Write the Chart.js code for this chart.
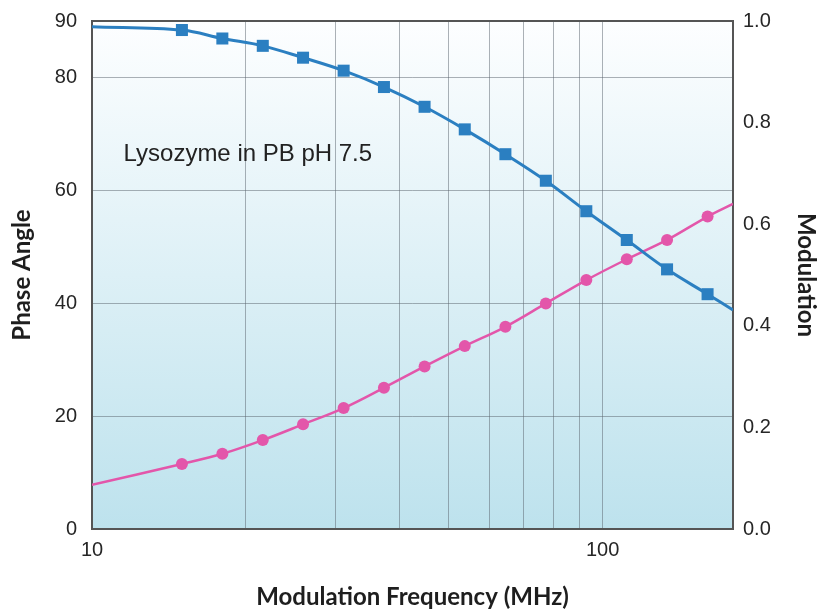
<!DOCTYPE html>
<html>
<head>
<meta charset="utf-8">
<script src="https://cdn.jsdelivr.net/npm/chart.js@4.4.1/dist/chart.umd.min.js"></script>
<style>
  html, body { margin: 0; padding: 0; background: #fff; }
  #wrap { width: 820px; height: 614px; }
</style>
</head>
<body>
<div id="wrap"><canvas id="c"></canvas></div>
<script>
const BLUE = "#2b7fc1";
const PINK = "#e356aa";
const GRID = "rgba(90,100,110,0.5)";
const FRAME = "#555";
const TEXT = "#262626";

// measured points, frequency in MHz
const FREQ = [15, 18, 21.6, 25.9, 31.1, 37.3, 44.8, 53.7, 64.5, 77.4, 92.9, 111.5, 133.7, 160.5];
const PHASE = [88.4, 86.9, 85.6, 83.5, 81.2, 78.3, 74.8, 70.8, 66.4, 61.7, 56.3, 51.2, 46.0, 41.6];
const MODULATION = [0.128, 0.148, 0.175, 0.206, 0.238, 0.278, 0.320, 0.360, 0.398, 0.444, 0.490, 0.531, 0.569, 0.615];

// the fitted curves run on to both edges of the axis
const CURVE_FREQ = [10, 180];
const PHASE_ENDS = [89.0, 38.8];
const MOD_ENDS = [0.087, 0.640];

const X_TICKS = [10, 20, 30, 40, 50, 60, 70, 80, 90, 100];
const Y_TICKS = [0, 20, 40, 60, 80, 90];
const Y2_TICKS = [0, 0.2, 0.4, 0.6, 0.8, 1.0];

function pts(xs, ys) {
  return xs.map((x, i) => ({ x, y: ys[i] }));
}

const phaseCurve = [
  { x: CURVE_FREQ[0], y: PHASE_ENDS[0] },
  ...pts(FREQ, PHASE),
  { x: CURVE_FREQ[1], y: PHASE_ENDS[1] },
];
const modCurve = [
  { x: CURVE_FREQ[0], y: MOD_ENDS[0] },
  ...pts(FREQ, MODULATION),
  { x: CURVE_FREQ[1], y: MOD_ENDS[1] },
];

const backdrop = {
  id: "backdrop",
  beforeDraw(chart) {
    const { ctx, chartArea: a } = chart;
    const g = ctx.createLinearGradient(0, a.top, 0, a.bottom);
    g.addColorStop(0, "#fdfeff");
    g.addColorStop(1, "#bde2ed");
    ctx.save();
    ctx.fillStyle = g;
    ctx.fillRect(a.left, a.top, a.right - a.left, a.bottom - a.top);
    ctx.restore();
  },
  beforeDatasetsDraw(chart) {
    const { ctx, chartArea: a, scales } = chart;
    ctx.save();
    ctx.strokeStyle = FRAME;
    ctx.lineWidth = 2;
    ctx.strokeRect(a.left, a.top, a.right - a.left, a.bottom - a.top);
    ctx.fillStyle = "#222";
    ctx.font = "24px 'Liberation Sans', Arial, sans-serif";
    ctx.textBaseline = "middle";
    ctx.fillText("Lysozyme in PB pH 7.5", scales.x.getPixelForValue(11.53), scales.y.getPixelForValue(66.4));
    ctx.restore();
  },
};

const tickFont = { family: "'Liberation Sans', Arial, sans-serif", size: 20 };
const titleFont = { family: "Lato, 'Open Sans', sans-serif", size: 24, weight: "bold" };

new Chart(document.getElementById("c"), {
  type: "scatter",
  data: {
    datasets: [
      { data: pts(FREQ, PHASE), yAxisID: "y", showLine: false, pointStyle: "rect", pointRadius: 8.5, pointHoverRadius: 8.5, backgroundColor: BLUE, borderWidth: 0, order: 1 },
      { data: pts(FREQ, MODULATION), yAxisID: "y2", showLine: false, pointStyle: "circle", pointRadius: 6, pointHoverRadius: 6, backgroundColor: PINK, borderWidth: 0, order: 1 },
      { data: phaseCurve, yAxisID: "y", showLine: true, pointRadius: 0, borderColor: BLUE, borderWidth: 3, tension: 0.35, order: 2 },
      { data: modCurve, yAxisID: "y2", showLine: true, pointRadius: 0, borderColor: PINK, borderWidth: 2.5, tension: 0.35, order: 2 },
    ],
  },
  options: {
    responsive: true,
    maintainAspectRatio: false,
    animation: false,
    layout: { padding: { top: 21, bottom: 0, left: 0, right: 0 } },
    plugins: { legend: { display: false }, tooltip: { enabled: false } },
    scales: {
      x: {
        type: "logarithmic",
        min: 10,
        max: 180,
        afterBuildTicks: (s) => { s.ticks = X_TICKS.map((v) => ({ value: v })); },
        afterFit: (s) => { s.height = 85; },
        ticks: {
          autoSkip: false, maxRotation: 0, padding: 9, color: TEXT, font: tickFont,
          callback: (v) => (v === 10 || v === 100 ? String(v) : ""),
        },
        grid: { color: GRID, lineWidth: 1, drawTicks: false },
        border: { display: false },
        title: { display: true, text: "Modulation Frequency (MHz)", color: "#1e1e1e", font: titleFont, padding: { top: 0, bottom: 2 } },
      },
      y: {
        position: "left",
        min: 0,
        max: 90,
        afterBuildTicks: (s) => { s.ticks = Y_TICKS.map((v) => ({ value: v })); },
        afterFit: (s) => { s.width = 92; },
        ticks: { padding: 0, color: TEXT, font: tickFont },
        grid: { color: GRID, lineWidth: 1, drawTicks: true, tickLength: 15, tickColor: "rgba(0,0,0,0)" },
        border: { display: false },
        title: { display: true, text: "Phase Angle", color: "#1e1e1e", font: titleFont, padding: { top: 8, bottom: 0 } },
      },
      y2: {
        position: "right",
        min: 0,
        max: 1,
        afterBuildTicks: (s) => { s.ticks = Y2_TICKS.map((v) => ({ value: v })); },
        afterFit: (s) => { s.width = 87; },
        ticks: { padding: 0, color: TEXT, font: tickFont, callback: (v) => v.toFixed(1) },
        grid: { drawOnChartArea: false, drawTicks: true, tickLength: 10, tickColor: "rgba(0,0,0,0)" },
        border: { display: false },
        title: { display: true, text: "Modulation", color: "#1e1e1e", font: titleFont, padding: { top: 0, bottom: 0 } },
      },
    },
  },
  plugins: [backdrop],
});
</script>
</body>
</html>
